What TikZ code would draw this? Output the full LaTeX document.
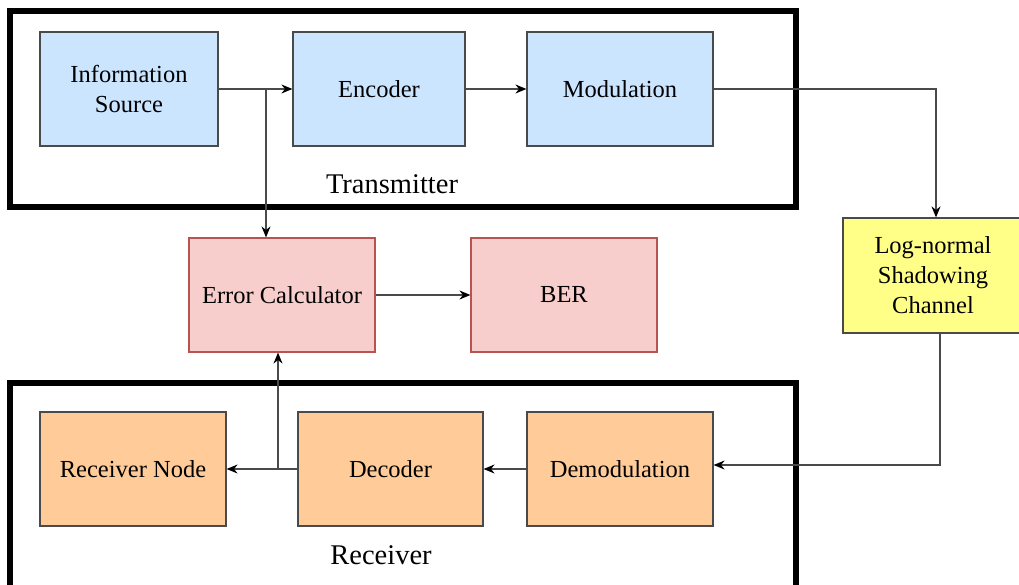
\documentclass[tikz,border=0pt]{standalone}
\usepackage{fontspec}
\setmainfont{Liberation Serif}
\usetikzlibrary{arrows.meta,calc}
\definecolor{bluef}{HTML}{CCE5FF}
\definecolor{redf}{HTML}{F8CECC}
\definecolor{redd}{HTML}{B85450}
\definecolor{orangef}{HTML}{FFCC99}
\definecolor{yellowf}{HTML}{FFFF88}
\definecolor{edge}{HTML}{4A4A4A}
\begin{document}
\begin{tikzpicture}[x=1pt,y=-1pt,
  blk/.style={draw=edge,line width=1.2pt,minimum width=186pt,minimum height=114pt,inner sep=0pt,align=center,font=\fontsize{24.5}{30}\selectfont},
  txb/.style={blk,fill=bluef},
  rdb/.style={blk,fill=redf,draw=redd},
  orb/.style={blk,fill=orangef},
  ylb/.style={blk,fill=yellowf},
  group/.style={draw=black,line width=6pt},
  conn/.style={draw=edge,line width=1.3pt,-{Stealth[length=11pt,width=9pt,fill=black,color=black]}},
  lbl/.style={font=\fontsize{28.5}{32}\selectfont,inner sep=0pt}]
\useasboundingbox (0,0) rectangle (1019,585);
\fill[white] (0,0) rectangle (1019,585);
% group frames
\draw[group] (10,11) rectangle (796,207);
\draw[group] (10,383) rectangle (796,620);
\node[lbl] (tx) at (392,184) {Transmitter};
\node[lbl] (rx) at (381,555) {Receiver};
% blocks
\node[txb,minimum width=178pt] (info) at (129,89) {Information\\Source};
\node[txb,minimum width=172pt] (enc) at (379,89) {Encoder};
\node[txb] (mod) at (620,89) {Modulation};
\node[rdb] (err) at (282,295) {Error Calculator};
\node[rdb] (ber) at (564,295) {BER};
\node[ylb,minimum width=180pt,minimum height=115pt] (chan) at (933,275.5) {Log-normal\\Shadowing\\Channel};
\node[orb] (recv) at (133,469) {Receiver Node};
\node[orb,minimum width=185pt] (dec) at (390.5,469) {Decoder};
\node[orb] (demod) at (620,469) {Demodulation};
% junctions
\coordinate (j1) at (266,89);
\coordinate (j2) at (278,469);
% connectors
\draw[conn] (info) -- (enc);
\draw[conn] (j1) -- (j1 |- err.north);
\draw[conn] (enc) -- (mod);
\draw[conn] (mod.east) -| ([xshift=3pt]chan.north);
\draw[conn] ([xshift=7pt]chan.south) |- ([yshift=4pt]demod.east);
\draw[conn] (demod) -- (dec);
\draw[conn] (dec) -- (recv);
\draw[conn] (j2) -- (j2 |- err.south);
\draw[conn] (err) -- (ber);
\end{tikzpicture}
\end{document}
